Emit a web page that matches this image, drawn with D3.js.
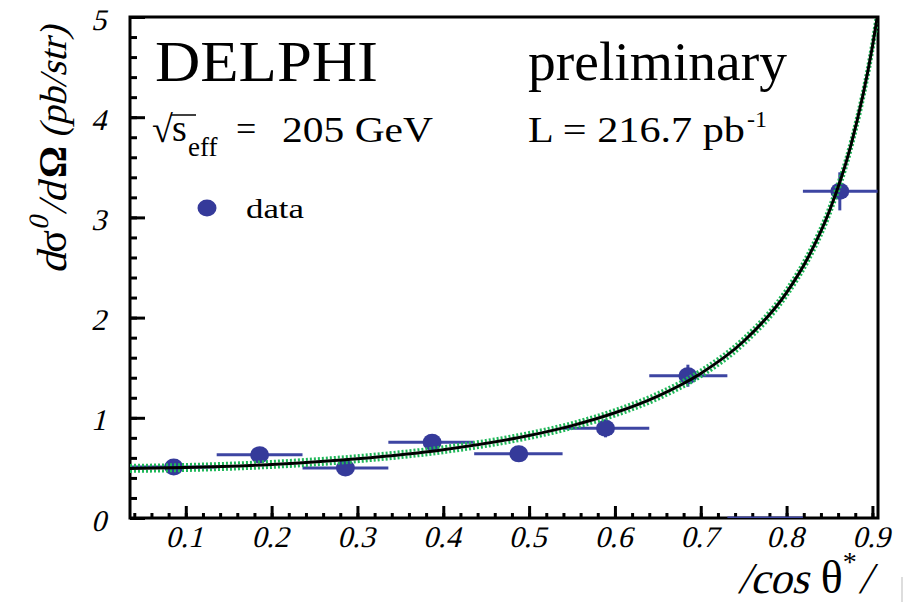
<!DOCTYPE html>
<html>
<head>
    <meta charset="utf-8">
    <script src="https://d3js.org/d3.v7.min.js"></script>
    <style>
        body { margin: 0; background: #fff; }
        text { font-family: "Liberation Serif", serif; fill: #000; }
    </style>
</head>
<body>
<script>
    "use strict";
    // Measured bins (|cos theta*|) and cross sections
    var binLo  = [0.036, 0.136, 0.236, 0.336, 0.436, 0.539, 0.640, 0.731, 0.819];
    var binHi  = [0.136, 0.236, 0.336, 0.436, 0.539, 0.640, 0.731, 0.819, 0.906];
    var binMid = [0.086, 0.186, 0.286, 0.387, 0.488, 0.589, 0.685, 0.775, 0.862];
    var xsec   = [0.51, 0.63, 0.50, 0.755, 0.64, 0.895, 1.42, 0.0, 3.26];
    var xsecErr = [0.06, 0.07, 0.06, 0.08, 0.08, 0.09, 0.11, 0.0, 0.19];

    // Theory curve (black) and its band (green dotted)
    var curveX = [0.035, 0.1, 0.2, 0.3, 0.4, 0.5, 0.55, 0.6, 0.65, 0.7, 0.75, 0.8, 0.825, 0.85, 0.875, 0.9, 0.906];
    var theory = [0.495, 0.504, 0.535, 0.592, 0.682, 0.823, 0.922, 1.050, 1.217, 1.443, 1.764, 2.250, 2.600, 3.066, 3.721, 4.706, 5.02];
    var bandHi = [0.525, 0.534, 0.565, 0.622, 0.712, 0.853, 0.952, 1.082, 1.250, 1.478, 1.800, 2.290, 2.645, 3.115, 3.775, 4.770, 5.09];
    var bandLo = [0.465, 0.474, 0.505, 0.562, 0.652, 0.793, 0.892, 1.018, 1.184, 1.408, 1.728, 2.210, 2.555, 3.017, 3.667, 4.642, 4.95];

    var xMajor = [0.1, 0.2, 0.3, 0.4, 0.5, 0.6, 0.7, 0.8, 0.9];
    var yMajor = [0, 1, 2, 3, 4, 5];

    var width = 903, height = 602;
    var padL = 130, padR = 878, padT = 17, padB = 518;
    var markColor = "#353a9a", barColor = "#3d45a2", green = "#20b85a";
    var slant = "skewX(-14)";   // serif italic look, built from the upright face

    var svg = d3.select("body").append("svg")
        .attr("width", width)
        .attr("height", height);

    var x = d3.scaleLinear().domain([0.035, 0.9065]).range([padL, padR]);
    var y = d3.scaleLinear().domain([0, 5]).range([padB, padT]);

    svg.append("clipPath").attr("id", "plot")
        .append("rect")
        .attr("x", padL).attr("y", padT)
        .attr("width", padR - padL).attr("height", padB - padT);

    // lay out a row of text pieces, some slanted, some raised
    function richText(parent, segs, anchor) {
        var g = parent.append("g");
        var cx = 0;
        segs.forEach(function(s) {
            var t = g.append("text")
                .attr("transform", "translate(" + cx + "," + (s.dy || 0) + ")" + (s.it ? " " + slant : ""))
                .style("font-size", s.size + "px")
                .style("font-weight", s.bold ? "bold" : null)
                .text(s.t);
            cx += t.node().getComputedTextLength() + (s.gap || 0);
        });
        var shift = anchor === "end" ? -cx : anchor === "middle" ? -cx / 2 : 0;
        g.attr("transform", "translate(" + shift + ",0)");
        return g;
    }

    // ticks pointing into the frame
    var xMinor = d3.range(0.04, 0.905, 0.02);
    var xAxis = d3.axisBottom(x).tickValues(xMinor).tickSize(-5).tickFormat("");
    svg.append("g").attr("transform", "translate(0," + padB + ")").call(xAxis)
        .call(function(g) {
            g.select(".domain").remove();
            g.selectAll("line").attr("stroke", "#000").attr("stroke-width", 3);
        });
    var xAxisMaj = d3.axisBottom(x).tickValues(xMajor).tickSize(-12)
        .tickFormat(d3.format(".1f"));
    svg.append("g").attr("transform", "translate(0," + padB + ")").call(xAxisMaj)
        .call(function(g) {
            g.select(".domain").remove();
            g.selectAll("line").attr("stroke", "#000").attr("stroke-width", 3);
            g.selectAll("text")
                .attr("y", 0)
                .attr("dy", null)
                .attr("transform", "translate(-2,29) " + slant)
                .style("font-size", "30px")
                .style("font-family", "Liberation Serif")
                .attr("fill", "#000");
        });

    var yMinor = d3.range(0.2, 5, 0.2);
    var yAxis = d3.axisLeft(y).tickValues(yMinor).tickSize(-7).tickFormat("");
    svg.append("g").attr("transform", "translate(" + padL + ",0)").call(yAxis)
        .call(function(g) {
            g.select(".domain").remove();
            g.selectAll("line").attr("stroke", "#000").attr("stroke-width", 3);
        });
    var yAxisMaj = d3.axisLeft(y).tickValues(yMajor).tickSize(-15).tickFormat(d3.format("d"));
    svg.append("g").attr("transform", "translate(" + padL + ",0)").call(yAxisMaj)
        .call(function(g) {
            g.select(".domain").remove();
            g.selectAll("line").attr("stroke", "#000").attr("stroke-width", 3);
            g.selectAll("text")
                .attr("x", 0)
                .attr("dy", "0.4em")
                .attr("transform", "translate(-21,0) " + slant)
                .style("font-size", "30px")
                .style("font-family", "Liberation Serif")
                .attr("fill", "#000");
        });

    // frame
    svg.append("rect")
        .attr("x", padL).attr("y", padT)
        .attr("width", padR - padL).attr("height", padB - padT)
        .attr("fill", "none").attr("stroke", "#000").attr("stroke-width", 3);

    // data: error bars and markers
    var pts = d3.range(binMid.length).map(function(i) {
        return { lo: binLo[i], hi: binHi[i], mid: binMid[i], v: xsec[i], e: xsecErr[i] };
    });
    var data = svg.append("g").attr("clip-path", "url(#plot)");
    data.selectAll("line.h").data(pts).enter().append("line")
        .attr("x1", function(d) { return x(d.lo); })
        .attr("x2", function(d) { return x(d.hi); })
        .attr("y1", function(d) { return y(d.v); })
        .attr("y2", function(d) { return y(d.v); })
        .attr("stroke", barColor).attr("stroke-width", 3);
    data.selectAll("line.v").data(pts).enter().append("line")
        .attr("x1", function(d) { return x(d.mid); })
        .attr("x2", function(d) { return x(d.mid); })
        .attr("y1", function(d) { return y(d.v - d.e); })
        .attr("y2", function(d) { return y(d.v + d.e); })
        .attr("stroke", barColor).attr("stroke-width", 3);
    // empty bin has no marker
    data.selectAll("ellipse").data(pts.filter(function(d) { return d.v > 0; })).enter()
        .append("ellipse")
        .attr("cx", function(d) { return x(d.mid); })
        .attr("cy", function(d) { return y(d.v); })
        .attr("rx", 9.5).attr("ry", 8.5)
        .attr("fill", markColor);

    // theory curves
    var curves = svg.append("g").attr("clip-path", "url(#plot)");
    function lineOf(vals) {
        return d3.line()
            .x(function(d, i) { return x(curveX[i]); })
            .y(function(d) { return y(d); })
            .curve(d3.curveMonotoneX)(vals);
    }
    [bandHi, bandLo].forEach(function(b) {
        curves.append("path").attr("d", lineOf(b))
            .attr("fill", "none").attr("stroke", green)
            .attr("stroke-width", 3).attr("stroke-dasharray", "2,2");
    });
    curves.append("path").attr("d", lineOf(theory))
        .attr("fill", "none").attr("stroke", "#000").attr("stroke-width", 3);

    // labels
    svg.append("text").attr("x", 155).attr("y", 81)
        .attr("textLength", 223).attr("lengthAdjust", "spacingAndGlyphs")
        .style("font-size", "57px").text("DELPHI");
    svg.append("text").attr("x", 528).attr("y", 80)
        .attr("textLength", 259).attr("lengthAdjust", "spacingAndGlyphs")
        .style("font-size", "54px").text("preliminary");

    svg.append("text").attr("x", 152).attr("y", 142).style("font-size", "38px").text("\u221A");
    svg.append("line").attr("x1", 171).attr("x2", 196).attr("y1", 115).attr("y2", 115)
        .attr("stroke", "#000").attr("stroke-width", 1.5);
    svg.append("text").attr("x", 172).attr("y", 141).style("font-size", "38px").text("s");
    svg.append("text").attr("x", 188).attr("y", 156).style("font-size", "27px").text("eff");
    svg.append("text").attr("x", 236).attr("y", 141).style("font-size", "36px").text("=");
    svg.append("text").attr("x", 282).attr("y", 142)
        .attr("textLength", 151).attr("lengthAdjust", "spacingAndGlyphs")
        .style("font-size", "36px").text("205 GeV");

    svg.append("text").attr("x", 528).attr("y", 142)
        .attr("textLength", 217).attr("lengthAdjust", "spacingAndGlyphs")
        .style("font-size", "36px").text("L = 216.7 pb");
    svg.append("text").attr("x", 747).attr("y", 127).style("font-size", "24px").text("-1");

    // legend
    svg.append("ellipse").attr("cx", 207).attr("cy", 208).attr("rx", 9.5).attr("ry", 8.5)
        .attr("fill", markColor);
    svg.append("text").attr("x", 246).attr("y", 218)
        .attr("textLength", 58).attr("lengthAdjust", "spacingAndGlyphs")
        .style("font-size", "28px").text("data");

    // axis titles
    var ytG = svg.append("g").attr("transform", "translate(66,150) rotate(-90)");
    richText(ytG, [
        { t: "d", it: true, size: 42 },
        { t: "\u03C3", size: 42 },
        { t: "0", it: true, size: 28, dy: -18, gap: 2 },
        { t: "/", it: true, size: 40 },
        { t: "d", it: true, size: 40, gap: 5 },
        { t: "\u03A9", size: 40, bold: true, gap: 8 },
        { t: "(pb/str)", it: true, size: 38 }
    ], "middle");

    var xtG = svg.append("g").attr("transform", "translate(871,593)");
    richText(xtG, [
        { t: "/cos", it: true, size: 44, gap: 12 },
        { t: "\u03B8", size: 46 },
        { t: "*", size: 28, dy: -22, gap: 2 },
        { t: "/", it: true, size: 44 }
    ], "end");

    // sliver at the right edge of the picture
    svg.append("line").attr("x1", 902).attr("x2", 902).attr("y1", 577).attr("y2", 602)
        .attr("stroke", "#ddd").attr("stroke-width", 2);
</script>
</body>
</html>
